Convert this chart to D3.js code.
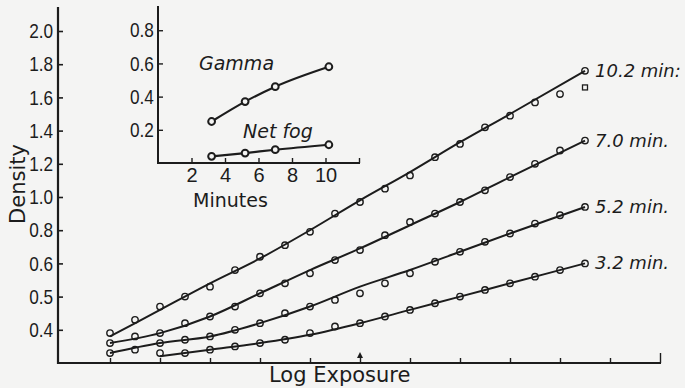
<!DOCTYPE html>
<html><head><meta charset="utf-8">
<script src="https://cdn.jsdelivr.net/npm/d3@7"></script>
<style>
html,body{margin:0;padding:0;background:#f4f4f3;}
svg{display:block;}
.tick text{font-family:"Liberation Sans",Arial,sans-serif;font-size:21px;fill:#1c1c1c;}
.title{font-family:"DejaVu Sans",sans-serif;font-size:21px;fill:#1c1c1c;}
.ital{font-family:"DejaVu Sans",sans-serif;font-style:italic;fill:#1c1c1c;}
</style></head><body>
<svg id="chart" width="685" height="388"></svg>
<script>
// ---------- data ----------
const logExposure = [0.3,0.45,0.6,0.75,0.9,1.05,1.2,1.35,1.5,1.65,1.8,1.95,2.1,2.25,2.4,2.55,2.7,2.85,3.0,3.15];
const density102 = [0.39,0.43,0.47,0.50,0.53,0.58,0.64,0.71,0.79,0.90,0.97,1.05,1.13,1.24,1.32,1.42,1.49,1.57,1.62,1.76];
const density70  = [0.36,0.38,0.39,0.42,0.44,0.47,0.51,0.54,0.57,0.62,0.68,0.77,0.85,0.90,0.97,1.04,1.12,1.20,1.28,1.34];
const density52  = [0.33,0.34,0.36,0.37,0.38,0.40,0.42,0.45,0.47,0.49,0.51,0.54,0.57,0.61,0.67,0.73,0.78,0.84,0.89,0.94];
const density32  = [null,null,0.33,0.33,0.34,0.35,0.36,0.37,0.39,0.41,0.42,0.44,0.46,0.48,0.50,0.52,0.54,0.56,0.58,0.60];
// smooth fitted curves
const fitExposure = [0.3,0.6,0.9,1.2,1.5,1.8,2.1,2.4,2.7,3.15];
const fit102 = [0.38,0.46,0.54,0.63,0.80,0.98,1.15,1.33,1.50,1.76];
const fit70  = [0.36,0.39,0.44,0.51,0.58,0.69,0.83,0.97,1.12,1.34];
const fit52  = [0.33,0.36,0.38,0.42,0.47,0.53,0.58,0.67,0.78,0.94];
const fit32  = [null,0.32,0.34,0.36,0.385,0.42,0.46,0.50,0.54,0.60];
const seriesLabels = ["10.2 min:","7.0 min.","5.2 min.","3.2 min."];
const outlierExposure = [3.15];
const outlierDensity = [1.66];
const densityTicks = [0.4,0.5,0.6,0.8,1.0,1.2,1.4,1.6,1.8,2.0];
const exposureTicks = [0.3,0.6,0.9,1.2,1.5,1.8,2.1,2.4,2.7,3.0,3.3,3.6];
// inset
const minutes = [3.2,5.2,7.0,10.2];
const gamma   = [0.25,0.37,0.46,0.58];
const netFog  = [0.04,0.06,0.08,0.11];
const minuteTicks = [2,4,6,8,10,12];
const insetTicks = [0.2,0.4,0.6,0.8];

// ---------- drawing ----------
const svg = d3.select("#chart");
const ink = "#1c1c1c";
const narrow = "scale(0.82,1)";

const yDomain = [0.3, ...densityTicks];
const x = d3.scaleLinear().domain([0,3.6]).range([60,660]);
const y = d3.scaleLinear().domain(yDomain).range(yDomain.map((d,i)=>363 - i*33.2));

// main axes
const yAx = svg.append("g").attr("transform","translate(58,0)")
  .call(d3.axisLeft(y).tickValues(densityTicks).tickFormat(d3.format(".1f")).tickSizeInner(-5).tickSizeOuter(0).tickPadding(6));
yAx.select(".domain").remove();
yAx.selectAll(".tick line").attr("stroke",ink).attr("stroke-width",1.6);
yAx.selectAll(".tick text").attr("transform",narrow);

const xAx = svg.append("g").attr("transform","translate(0,363)")
  .call(d3.axisBottom(x).tickValues(exposureTicks).tickFormat("").tickSizeInner(-5).tickSizeOuter(0));
xAx.select(".domain").remove();
xAx.selectAll(".tick line").attr("stroke",ink).attr("stroke-width",1.4)
  .attr("y2",d=>d===3.6?-10:-5);
svg.append("line").attr("x1",58).attr("x2",58).attr("y1",7).attr("y2",364).attr("stroke",ink).attr("stroke-width",2.2);
svg.append("line").attr("x1",57).attr("x2",x(3.6)+1).attr("y1",363).attr("y2",363).attr("stroke",ink).attr("stroke-width",2.2);
// arrow mark at 1.8
svg.append("path").attr("d",`M${x(1.8)-3},${358} L${x(1.8)},${352} L${x(1.8)+3},${358} Z`).attr("fill",ink);

// curves
const line = d3.line().defined(d=>d[1]!=null).x(d=>x(d[0])).y(d=>y(d[1])).curve(d3.curveMonotoneX);
const fits = [fit102,fit70,fit52,fit32];
const obs = [density102,density70,density52,density32];
fits.forEach((f,i)=>{
  svg.append("path").datum(fitExposure.map((e,j)=>[e,f[j]]))
    .attr("d",line).attr("fill","none").attr("stroke",ink).attr("stroke-width",2);
  svg.append("g").selectAll("circle").data(logExposure.map((e,j)=>[e,obs[i][j]]).filter(d=>d[1]!=null))
    .join("circle").attr("cx",d=>x(d[0])).attr("cy",d=>y(d[1])).attr("r",3.2)
    .attr("fill","none").attr("stroke",ink).attr("stroke-width",1.4);
  const last = f[f.length-1];
  svg.append("text").attr("class","ital").attr("font-size",18)
    .attr("x",x(3.15)+10).attr("y",y(last)+6).text(seriesLabels[i]);
});
svg.append("g").selectAll("rect").data(outlierExposure.map((e,j)=>[e,outlierDensity[j]]))
  .join("rect").attr("x",d=>x(d[0])-2.5).attr("y",d=>y(d[1])-2.5).attr("width",5).attr("height",5)
  .attr("fill","none").attr("stroke",ink).attr("stroke-width",1.3);

// titles
svg.append("text").attr("class","title").attr("text-anchor","middle")
  .attr("transform","translate(25,184) rotate(-90)").text("Density");
svg.append("text").attr("class","title").attr("x",269).attr("y",382).text("Log Exposure");

// inset
const xi = d3.scaleLinear().domain([0,12]).range([158,359]);
const yi = d3.scaleLinear().domain([0,0.94]).range([163,7]);
const yiAx = svg.append("g").attr("transform","translate(158,0)")
  .call(d3.axisLeft(yi).tickValues(insetTicks).tickFormat(d3.format(".1f")).tickSizeInner(-5).tickSizeOuter(0).tickPadding(5));
yiAx.select(".domain").remove();
yiAx.selectAll(".tick line").attr("stroke",ink).attr("stroke-width",1.4);
yiAx.selectAll(".tick text").attr("transform",narrow);
const xiAx = svg.append("g").attr("transform","translate(0,163)")
  .call(d3.axisBottom(xi).tickValues(minuteTicks).tickFormat(d=>d===12?"":d).tickSizeInner(-5).tickSizeOuter(0).tickPadding(5));
xiAx.select(".domain").remove();
xiAx.selectAll(".tick line").attr("stroke",ink).attr("stroke-width",1.4);
xiAx.selectAll(".tick text").style("font-size","20px");
svg.append("line").attr("x1",158).attr("x2",158).attr("y1",6).attr("y2",164).attr("stroke",ink).attr("stroke-width",2);
svg.append("line").attr("x1",157).attr("x2",360).attr("y1",163).attr("y2",163).attr("stroke",ink).attr("stroke-width",2);
svg.append("text").attr("class","title").style("font-size","19px").attr("x",193).attr("y",207).text("Minutes");

const iline = d3.line().x(d=>xi(d[0])).y(d=>yi(d[1])).curve(d3.curveMonotoneX);
[gamma,netFog].forEach(s=>{
  const pts = minutes.map((m,j)=>[m,s[j]]);
  svg.append("path").datum(pts).attr("d",iline).attr("fill","none").attr("stroke",ink).attr("stroke-width",2.2);
  svg.append("g").selectAll("circle").data(pts).join("circle")
    .attr("cx",d=>xi(d[0])).attr("cy",d=>yi(d[1])).attr("r",3.4)
    .attr("fill","#f4f4f3").attr("stroke",ink).attr("stroke-width",2);
});
svg.append("text").attr("class","ital").attr("font-size",19).attr("x",199).attr("y",70).text("Gamma");
svg.append("text").attr("class","ital").attr("font-size",19).attr("x",243).attr("y",138).text("Net fog");
</script>
</body></html>
